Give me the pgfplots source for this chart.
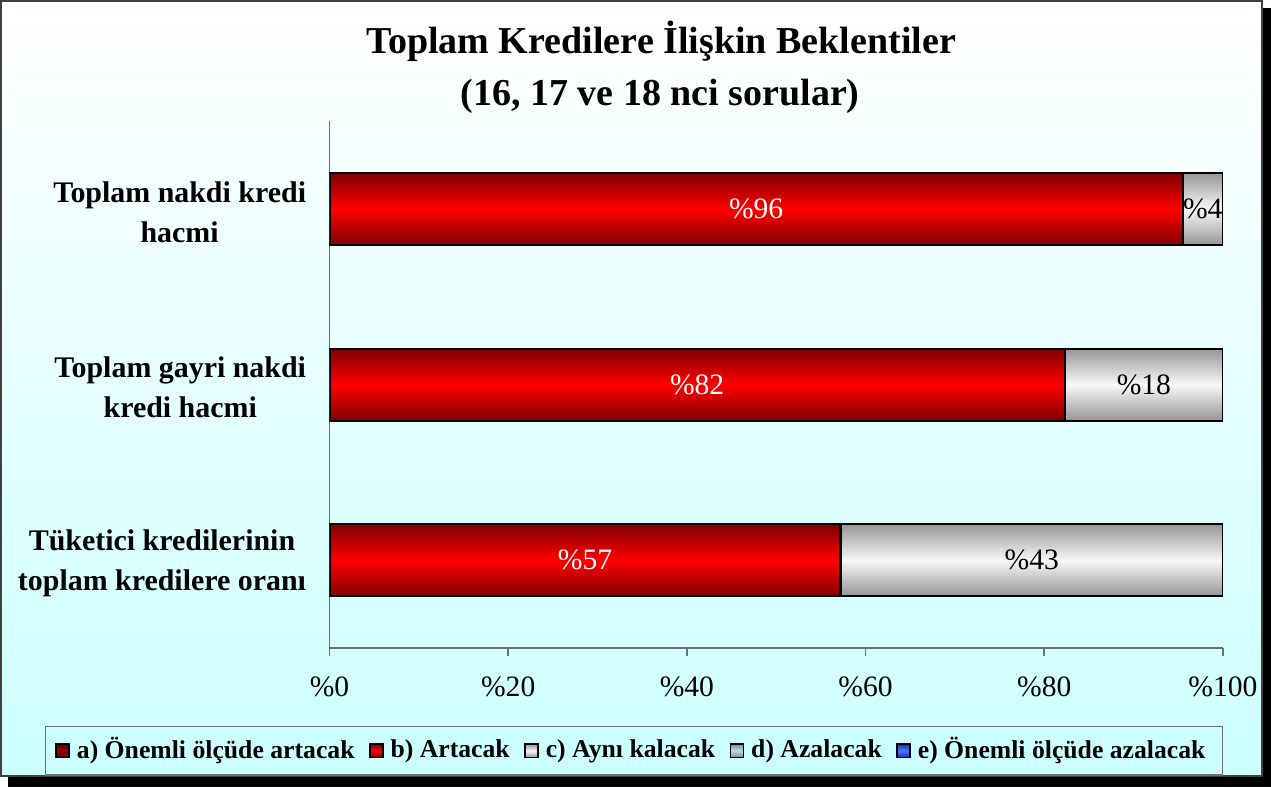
\documentclass[border=0pt]{standalone}
\usepackage{pgfplots}
\pgfplotsset{compat=1.18}
\usepackage{pgfplotstable}
\usepackage{fontspec}
\setmainfont{Liberation Serif}
\definecolor{bgbot}{RGB}{204,255,255}
\definecolor{framegray}{RGB}{64,64,64}
\definecolor{axisgray}{RGB}{110,110,110}
\definecolor{reddark}{RGB}{128,0,0}
\definecolor{redmid}{RGB}{255,0,0}
\definecolor{graydark}{RGB}{150,150,150}
\definecolor{graymid}{RGB}{248,248,248}
\definecolor{adark}{RGB}{90,0,0}
\definecolor{amid}{RGB}{150,0,0}
\definecolor{ddark}{RGB}{120,140,180}
\definecolor{dmid}{RGB}{200,215,235}
\definecolor{edark}{RGB}{20,50,190}
\definecolor{emid}{RGB}{80,120,255}
% category position y, series a..e in percent, rounded labels
\pgfplotstableread{
y a b c d e lb lc
2 0 95.5 4.5 0 0 96 4
1 0 82.3 17.7 0 0 82 18
0 0 57.2 42.8 0 0 57 43
}\data
\pgfplotstableread{
y a b c d e
2 0 95.5 4.5 0 0
}\rowA
\pgfplotstableread{
y a b c d e
1 0 82.3 17.7 0 0
}\rowB
\pgfplotstableread{
y a b c d e
0 0 57.2 42.8 0 0
}\rowC
\pgfplotsset{
  barbase/.style={xbar, bar width=7.2mm, bar shift=0pt, forget plot, draw=black, line width=0.6pt},
  redbar/.style={barbase, top color=reddark, bottom color=reddark, middle color=redmid},
  graybar/.style={barbase, top color=graydark, bottom color=graydark, middle color=graymid},
}
\begin{document}
\begin{tikzpicture}[x=0.1mm,y=-0.1mm]
\fill[black] (10,9) rectangle (1271,787);
\shade[top color=white, bottom color=bgbot] (3,2) rectangle (1262,776);
\draw[line width=0.2mm, draw=framegray] (3,2) rectangle (1262,776);
\node[anchor=base, font=\fontsize{10.8}{13}\selectfont\bfseries] at (662,54) {Toplam Kredilere İlişkin Beklentiler};
\node[anchor=base, font=\fontsize{10.8}{13}\selectfont\bfseries] at (661,106) {(16, 17 ve 18 nci sorular)};
\begin{axis}[
  at={(33.1mm,-64.8mm)}, anchor=south west,
  scale only axis, width=89.2mm, height=52.6mm,
  xmin=0, xmax=100, ymin=-0.5, ymax=2.5,
  axis x line*=bottom, axis y line*=left,
  axis line style={draw=axisgray, line width=0.5pt},
  xtick={0,20,40,60,80,100},
  xticklabels={\%0,\%20,\%40,\%60,\%80,\%100},
  tick align=outside,
  major tick length=0.8mm,
  xtick style={draw=axisgray, line width=0.5pt},
  ytick={0,1,2},
  yticklabels={{Tüketici kredilerinin\\toplam kredilere oranı},{Toplam gayri nakdi\\kredi hacmi},{Toplam nakdi kredi\\hacmi}},
  ytick style={draw=none},
  yticklabel style={align=center, font=\fontsize{8.5}{11.3}\selectfont\bfseries, yshift=-0.3mm, xshift=-0.3mm},
  xticklabel style={font=\fontsize{8.4}{10}\selectfont, yshift=-0.8mm},
  legend style={at={(0.3408,-0.1949)}, anchor=center, draw=axisgray, fill=bgbot,
    font=\fontsize{7.3}{8}\selectfont\bfseries, legend columns=-1,
    inner xsep=1.0mm, inner ysep=0.4mm,
    /tikz/every even column/.append style={column sep=0.75mm}},
  legend image code/.code={\draw[#1, line width=0.4pt, draw=black] (0mm,-0.65mm) rectangle (1.3mm,0.65mm);},
]
% gray segment drawn as the full stack (b+c), red segment b over it
\addplot[graybar] table[x expr=\thisrow{b}+\thisrow{c}, y=y] {\rowA};
\addplot[redbar] table[x=b, y=y] {\rowA};
\addplot[graybar] table[x expr=\thisrow{b}+\thisrow{c}, y=y] {\rowB};
\addplot[redbar] table[x=b, y=y] {\rowB};
\addplot[graybar] table[x expr=\thisrow{b}+\thisrow{c}, y=y] {\rowC};
\addplot[redbar] table[x=b, y=y] {\rowC};
% value labels at the middle of each segment
\addplot[draw=none, mark=none, forget plot, point meta=explicit symbolic,
  nodes near coords={\%\pgfplotspointmeta},
  every node near coord/.append style={anchor=center, text=white, font=\fontsize{8.4}{10}\selectfont}]
  table[x expr=\thisrow{b}/2, y=y, meta=lb] {\data};
\addplot[draw=none, mark=none, forget plot, point meta=explicit symbolic,
  nodes near coords={\%\pgfplotspointmeta},
  every node near coord/.append style={anchor=center, text=black, font=\fontsize{8.4}{10}\selectfont}]
  table[x expr=\thisrow{b}+\thisrow{c}/2, y=y, meta=lc] {\data};
\addlegendimage{top color=adark, bottom color=adark, middle color=amid}
\addlegendentry{\strut a) Önemli ölçüde artacak}
\addlegendimage{top color=reddark, bottom color=reddark, middle color=redmid}
\addlegendentry{\strut b) Artacak}
\addlegendimage{top color=graydark, bottom color=graydark, middle color=graymid}
\addlegendentry{\strut c) Aynı kalacak}
\addlegendimage{top color=ddark, bottom color=ddark, middle color=dmid}
\addlegendentry{\strut d) Azalacak}
\addlegendimage{top color=edark, bottom color=edark, middle color=emid}
\addlegendentry{\strut e) Önemli ölçüde azalacak}
\end{axis}
\end{tikzpicture}
\end{document}
